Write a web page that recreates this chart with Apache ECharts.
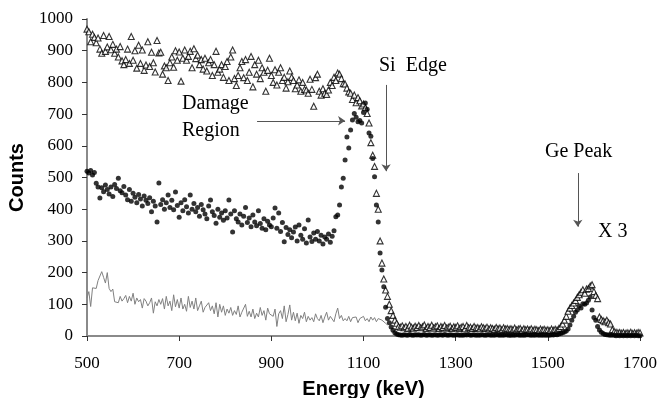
<!DOCTYPE html>
<html>
<head>
<meta charset="utf-8">
<script src="https://cdn.jsdelivr.net/npm/echarts@6/dist/echarts.min.js"></script>
<style>
  html, body { margin: 0; padding: 0; background: #fff; }
  #chart { width: 659px; height: 398px; }
</style>
</head>
<body>
<div id="chart"></div>
<script>
// channel calibration: first channel energy and keV per channel
const energyStart = 500;
const energyStep = 4;

// random spectrum (open triangles), 500..1700 keV
const randomCounts = [
  968, 960, 928, 952, 942, 925, 940, 905, 892, 948,
  898, 912, 945, 903, 920, 892, 905, 880, 913, 868,
  856, 872, 905, 860, 945, 870, 900, 845, 917, 860,
  902, 838, 855, 928, 850, 895, 862, 833, 932, 893,
  895, 826, 852, 846, 806, 862, 880, 848, 900, 870,
  896, 804, 876, 902, 870, 882, 898, 846, 906, 875,
  886, 856, 872, 842, 876, 836, 862, 872, 822, 856,
  898, 832, 842, 856, 816, 850, 866, 806, 880, 902,
  812, 790, 822, 846, 866, 815, 872, 806, 832, 882,
  786, 856, 826, 870, 812, 846, 832, 772, 838, 876,
  822, 800, 840, 792, 832, 846, 806, 816, 782, 802,
  836, 816, 806, 780, 792, 808, 772, 800, 778, 776,
  766, 810, 778, 725, 815, 826, 772, 760, 780, 766,
  762, 776, 800, 790, 816, 806, 830, 826, 812, 796,
  795, 782, 770, 766, 746, 760, 736, 752, 742, 726,
  732, 720, 702, 672, 610, 570, 535, 450, 400, 300,
  230, 180, 145, 125, 100, 80, 65, 50, 40, 30,
  28, 32, 26, 30, 24, 34, 28, 25, 31, 27,
  33, 26, 29, 35, 24, 30, 27, 34, 25, 29,
  32, 24, 30, 27, 33, 25, 28, 31, 24, 29,
  27, 32, 24, 28, 30, 23, 33, 26, 28, 24,
  30, 25, 27, 23, 29, 26, 24, 28, 22, 26,
  24, 21, 27, 23, 25, 20, 26, 22, 24, 21,
  23, 20, 25, 19, 22, 24, 18, 23, 20, 22,
  19, 23, 18, 21, 20, 17, 22, 19, 21, 18,
  20, 17, 22, 18, 21, 19, 24, 30, 38, 50,
  62, 78, 88, 96, 104, 112, 122, 130, 138, 146,
  135, 148, 150, 158, 162, 140, 128, 118, 60, 52,
  48, 45, 50, 42, 38, 20, 14, 12, 10, 11,
  9, 11, 8, 10, 9, 12, 8, 10, 9, 11,
  10
];

// aligned spectrum of implanted sample (filled circles), 500..1700 keV
const alignedCounts = [
  520, 514, 522, 508, 516, 482, 470, 435, 468, 455,
  476, 462, 448, 470, 440, 478, 465, 498, 458, 452,
  472, 445, 430, 462, 425, 450, 438, 420, 446, 432,
  410, 442, 428, 418, 436, 392, 425, 410, 360, 483,
  415, 430, 400, 420, 445, 405, 428, 398, 454, 412,
  375, 420, 395, 430, 408, 388, 445, 400, 418, 392,
  405, 378, 415, 398, 385, 370, 410, 429, 392, 380,
  356, 400, 375, 388, 365, 395, 372, 429, 385, 328,
  395, 370, 360, 385, 350, 378, 405, 358, 372, 345,
  382, 360, 348, 395, 355, 340, 370, 335, 362, 350,
  345, 372, 404, 340, 388, 330, 358, 297, 342, 320,
  335, 310, 328, 344, 300, 350, 318, 305, 338, 293,
  366, 312, 298, 325, 305, 330, 300, 318, 290, 312,
  305, 322, 296, 315, 332, 376, 382, 413, 470, 498,
  555, 628, 593, 650, 681, 702, 690, 676, 680, 672,
  705, 735, 715, 640, 630, 560, 502, 413, 360, 262,
  208, 155, 91, 55, 42, 28, 18, 10, 6, 4,
  3, 2, 4, 3, 2, 5, 3, 2, 4, 3,
  4, 2, 3, 5, 2, 3, 4, 2, 3, 4,
  2, 3, 4, 2, 5, 3, 2, 4, 3, 2,
  3, 4, 2, 3, 2, 4, 3, 5, 2, 3,
  4, 2, 3, 2, 4, 3, 2, 3, 4, 2,
  3, 2, 4, 3, 2, 3, 2, 4, 3, 2,
  2, 3, 2, 4, 3, 2, 3, 2, 3, 4,
  3, 2, 3, 2, 4, 2, 3, 2, 3, 2,
  3, 2, 4, 3, 5, 4, 6, 8, 10, 13,
  16, 22, 35, 50, 62, 75, 82, 95, 88, 102,
  100, 104, 113, 123, 82, 58, 50, 30, 19, 12,
  8, 5, 4, 3, 2, 3, 2, 1, 2, 1,
  2, 1, 2, 1, 2, 1, 2, 1, 2, 1,
  1
];

// aligned spectrum of virgin sample (grey line), 500..1152 keV
const virginCounts = [
  120, 140, 93, 152, 146, 150, 175, 180, 203, 185,
  167, 200, 150, 140, 148, 108, 112, 105, 125, 110,
  118, 128, 105, 125, 110, 135, 100, 120, 108, 115,
  88, 118, 110, 95, 105, 120, 72, 108, 95, 115,
  100, 118, 85, 125, 95, 110, 80, 130, 92, 115,
  88, 120, 85, 100, 78, 125, 90, 110, 85, 120,
  80, 95, 110, 75, 90, 85, 105, 80, 95, 70,
  105, 60, 100, 75, 95, 65, 85, 72, 90, 65,
  80, 68, 95, 60, 75, 70, 100, 62, 78, 60,
  85, 55, 72, 60, 90, 65, 80, 50, 88, 70,
  75, 62, 85, 30, 70, 80, 55, 95, 45, 68,
  98, 50, 75, 48, 72, 40, 65, 55, 75, 45,
  62, 50, 58, 45, 70, 55, 48, 65, 42, 60,
  75, 50, 62, 68, 45, 70, 88, 55, 65, 48,
  55, 48, 62, 45, 58, 52, 60, 42, 55, 50,
  62, 48, 55, 45, 60, 50, 58, 45, 55, 60,
  50, 45, 40, 35
];

// x axis runs on (energy - energyStart) so ticks land on 500, 700, ...
function toPoints(counts) {
  return counts.map((v, i) => [i * energyStep, v]);
}
function e(kev) {
  return kev - energyStart;
}

const serif = "'Liberation Serif', 'Times New Roman', serif";
const sans = "'Liberation Sans', Arial, sans-serif";
const arrowStyle = { color: '#555', width: 1, type: 'solid' };

const chart = echarts.init(document.getElementById('chart'));
const option = {
  animation: false,
  grid: { left: 87, right: 19, top: 19, bottom: 62, containLabel: false, outerBoundsMode: 'none' },
  xAxis: {
    type: 'value',
    min: 0,
    max: 1200,
    interval: 200,
    name: 'Energy (keV)',
    nameLocation: 'middle',
    nameGap: 43,
    nameTextStyle: { fontFamily: sans, fontWeight: 'bold', fontSize: 20, color: '#000' },
    axisLine: { lineStyle: { color: '#8a8a8a', width: 2 } },
    axisTick: { length: 5, lineStyle: { color: '#333' } },
    axisLabel: {
      margin: 19,
      fontFamily: serif,
      fontSize: 17,
      color: '#000',
      formatter: v => String(v + energyStart)
    },
    splitLine: { show: false }
  },
  yAxis: {
    type: 'value',
    min: 0,
    max: 1000,
    interval: 100,
    name: 'Counts',
    nameLocation: 'middle',
    nameGap: 60,
    nameTextStyle: { fontFamily: sans, fontWeight: 'bold', fontSize: 20, color: '#000' },
    axisLine: { show: true, lineStyle: { color: '#8a8a8a', width: 2 } },
    axisTick: { show: true, length: 5, lineStyle: { color: '#333' } },
    axisLabel: {
      margin: 14,
      fontFamily: serif,
      fontSize: 17,
      color: '#000',
      formatter: v => String(v)
    },
    splitLine: { show: false }
  },
  series: [
    {
      name: 'Virgin aligned',
      type: 'line',
      data: toPoints(virginCounts),
      showSymbol: false,
      lineStyle: { color: '#808080', width: 1 },
      z: 1
    },
    {
      name: 'Random',
      type: 'scatter',
      data: toPoints(randomCounts),
      symbol: 'triangle',
      symbolSize: 6,
      itemStyle: { color: '#fff', borderColor: '#000', borderWidth: 1.1 },
      z: 2,
      markLine: {
        silent: true,
        symbol: ['none', 'arrow'],
        symbolSize: 7,
        label: { show: false },
        lineStyle: arrowStyle,
        itemStyle: { color: '#555' },
        data: [
          // Si edge
          [{ coord: [e(1149), 792] }, { coord: [e(1149), 520] }],
          // damage region
          [{ coord: [e(869), 679] }, { coord: [e(1060), 679] }],
          // Ge peak
          [{ coord: [e(1565), 514] }, { coord: [e(1565), 345] }]
        ]
      }
    },
    {
      name: 'Implanted aligned',
      type: 'scatter',
      data: toPoints(alignedCounts),
      symbol: 'circle',
      symbolSize: 5,
      itemStyle: { color: '#000' },
      z: 3
    }
  ],
  graphic: [
    { type: 'text', left: 379, top: 56, style: { text: 'Si  Edge', font: '20px ' + serif, fill: '#000' } },
    { type: 'text', left: 182, top: 94, style: { text: 'Damage', font: '20px ' + serif, fill: '#000' } },
    { type: 'text', left: 182, top: 121, style: { text: 'Region', font: '20px ' + serif, fill: '#000' } },
    { type: 'text', left: 545, top: 142, style: { text: 'Ge Peak', font: '20px ' + serif, fill: '#000' } },
    { type: 'text', left: 598, top: 222, style: { text: 'X 3', font: '20px ' + serif, fill: '#000' } }
  ]
};
chart.setOption(option);
</script>
</body>
</html>
